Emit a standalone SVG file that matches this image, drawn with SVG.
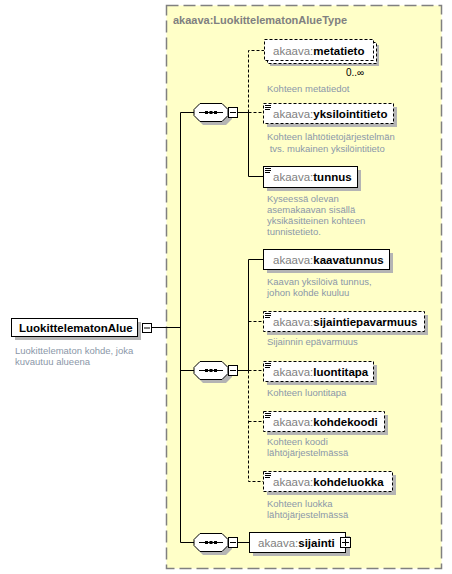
<svg xmlns="http://www.w3.org/2000/svg" width="452" height="574" viewBox="0 0 452 574">
<defs>
<style>
.ns{fill:#808080;font-weight:normal}
.nm{fill:#000;font-weight:bold}
.el{font-family:"Liberation Sans",Arial,sans-serif;font-size:11.5px}
.desc{font-family:"Liberation Sans",Arial,sans-serif;font-size:9.5px;fill:#8b97a8}
.box{fill:#fff;stroke:#000;stroke-width:1}
.dbox{fill:#fff;stroke:#000;stroke-width:1;stroke-dasharray:3,2}
.sh{fill:#b4b4b4}
.ln{stroke:#000;stroke-width:1;fill:none}
.dl{stroke:#000;stroke-width:1;fill:none;stroke-dasharray:3,2}
.ic{stroke:#000;stroke-width:1}
</style>
<g id="seq">
<polygon points="6,-8.5 3,-8.5 0,-5.5 0,5.5 6,9.5 29,9.5 34,5.5 34,-5.5 29,-9.5 6,-9.5" fill="none"/>
</g>
</defs>
<rect x="0" y="0" width="452" height="574" fill="#fff"/>

<g id="container">
<rect x="166.5" y="5.5" width="275" height="563" fill="#ffffc8" stroke="#808080" stroke-width="1.5" stroke-dasharray="12,5"/>
<text x="173" y="24" font-family="Liberation Sans,Arial,sans-serif" font-size="11px" font-weight="bold" fill="#808080">akaava:LuokittelematonAlueType</text>
</g>

<g id="connectors">
<line class="ln" x1="152" y1="327.5" x2="180.5" y2="327.5"/>
<line class="ln" x1="180.5" y1="112.5" x2="180.5" y2="542.5"/>
<line class="ln" x1="180.5" y1="112.5" x2="194" y2="112.5"/>
<line class="ln" x1="180.5" y1="370.5" x2="194" y2="370.5"/>
<line class="ln" x1="180.5" y1="542.5" x2="194" y2="542.5"/>
<!-- group 1 -->
<line class="ln" x1="238" y1="112.5" x2="248.5" y2="112.5"/>
<polyline class="dl" points="248.5,112.5 248.5,50.5 264,50.5"/>
<line class="dl" x1="248.5" y1="112.5" x2="263" y2="112.5"/>
<polyline class="ln" points="248.5,112.5 248.5,176.5 263,176.5"/>
<!-- group 2 -->
<line class="ln" x1="238" y1="370.5" x2="248.5" y2="370.5"/>
<polyline class="ln" points="248.5,370.5 248.5,259.5 263,259.5"/>
<line class="dl" x1="248.5" y1="321.5" x2="263" y2="321.5"/>
<line class="dl" x1="248.5" y1="370.5" x2="263" y2="370.5"/>
<polyline class="dl" points="248.5,370.5 248.5,481.5 263,481.5"/>
<line class="dl" x1="248.5" y1="421.5" x2="263" y2="421.5"/>
<!-- group 3 -->
<line class="ln" x1="238" y1="542.5" x2="249" y2="542.5"/>
</g>

<g id="LuokittelematonAlue">
<rect class="sh" x="15" y="322" width="126" height="18"/>
<rect class="box" x="11.5" y="318.5" width="126" height="18"/>
<text class="el nm" x="19" y="332" font-size="11.5px">LuokittelematonAlue</text>
<rect class="box" x="142.5" y="323.5" width="9" height="9"/>
<line class="ic" x1="144" y1="328" x2="150" y2="328"/>
<text class="desc"><tspan x="15" y="354">Luokittelematon kohde, joka</tspan><tspan x="15" y="365">kuvautuu alueena</tspan></text>
</g>

<g id="sequence1">
<polygon class="sh" points="203,107 226,107 232,113 232,119 226,125 203,125 197,119 197,113"/>
<polygon points="200,103.5 222,103.5 228,109.5 228,115.5 222,121.5 200,121.5 194,115.5 194,109.5" fill="#fff" stroke="#000"/>
<line class="ic" x1="199" y1="112.5" x2="223" y2="112.5"/>
<rect x="205" y="111" width="3" height="3"/><rect x="209.5" y="111" width="3" height="3"/><rect x="214" y="111" width="3" height="3"/>
<rect class="box" x="228.5" y="107.5" width="9" height="10"/>
<line class="ic" x1="230" y1="112.5" x2="236" y2="112.5"/>
</g>

<g id="sequence2">
<polygon class="sh" points="203,365 226,365 232,371 232,377 226,383 203,383 197,377 197,371"/>
<polygon points="200,361.5 222,361.5 228,367.5 228,373.5 222,379.5 200,379.5 194,373.5 194,367.5" fill="#fff" stroke="#000"/>
<line class="ic" x1="199" y1="370.5" x2="223" y2="370.5"/>
<rect x="205" y="369" width="3" height="3"/><rect x="209.5" y="369" width="3" height="3"/><rect x="214" y="369" width="3" height="3"/>
<rect class="box" x="228.5" y="365.5" width="9" height="10"/>
<line class="ic" x1="230" y1="370.5" x2="236" y2="370.5"/>
</g>

<g id="sequence3">
<polygon class="sh" points="203,537 226,537 232,543 232,549 226,555 203,555 197,549 197,543"/>
<polygon points="200,533.5 222,533.5 228,539.5 228,545.5 222,551.5 200,551.5 194,545.5 194,539.5" fill="#fff" stroke="#000"/>
<line class="ic" x1="199" y1="542.5" x2="223" y2="542.5"/>
<rect x="205" y="541" width="3" height="3"/><rect x="209.5" y="541" width="3" height="3"/><rect x="214" y="541" width="3" height="3"/>
<rect class="box" x="228.5" y="537.5" width="9" height="10"/>
<line class="ic" x1="230" y1="542.5" x2="236" y2="542.5"/>
</g>

<g id="metatieto">
<rect class="sh" x="270" y="45" width="109" height="21"/>
<rect class="dbox" x="267.5" y="42.5" width="109" height="21"/>
<rect class="dbox" x="264.5" y="39.5" width="109" height="21"/>
<text class="el" x="273" y="54.5"><tspan class="ns">akaava:</tspan><tspan class="nm">metatieto</tspan></text>
<text x="346" y="76" font-family="Liberation Sans,Arial,sans-serif" font-size="10px" fill="#000">0..∞</text>
<text class="desc" x="267" y="92">Kohteen metatiedot</text>
</g>

<g id="yksilointitieto">
<rect class="sh" x="267" y="107" width="130" height="20"/>
<rect class="dbox" x="263.5" y="103.5" width="130" height="20"/>
<line class="ic" x1="265" y1="105.5" x2="271" y2="105.5"/><line class="ic" x1="265" y1="107.5" x2="271" y2="107.5"/><line class="ic" x1="265" y1="109.5" x2="270" y2="109.5"/>
<text class="el" x="273" y="117.5"><tspan class="ns">akaava:</tspan><tspan class="nm">yksilointitieto</tspan></text>
<text class="desc"><tspan x="267" y="140">Kohteen lähtötietojärjestelmän</tspan><tspan x="267" y="152"> tvs. mukainen yksilöintitieto</tspan></text>
</g>

<g id="tunnus">
<rect class="sh" x="267" y="170" width="94" height="21"/>
<rect class="box" x="263.5" y="166.5" width="94" height="21"/>
<line class="ic" x1="265" y1="168.5" x2="271" y2="168.5"/><line class="ic" x1="265" y1="170.5" x2="271" y2="170.5"/><line class="ic" x1="265" y1="172.5" x2="270" y2="172.5"/>
<text class="el" x="273" y="181"><tspan class="ns">akaava:</tspan><tspan class="nm">tunnus</tspan></text>
<text class="desc"><tspan x="267" y="202">Kyseessä olevan</tspan><tspan x="267" y="213">asemakaavan sisällä</tspan><tspan x="267" y="224">yksikäsitteinen kohteen</tspan><tspan x="267" y="235">tunnistetieto.</tspan></text>
</g>

<g id="kaavatunnus">
<rect class="sh" x="267" y="253" width="126" height="20"/>
<rect class="box" x="263.5" y="249.5" width="126" height="20"/>
<text class="el" x="273" y="263.5"><tspan class="ns">akaava:</tspan><tspan class="nm">kaavatunnus</tspan></text>
<text class="desc"><tspan x="267" y="285">Kaavan yksilöivä tunnus,</tspan><tspan x="267" y="296">johon kohde kuuluu</tspan></text>
</g>

<g id="sijaintiepavarmuus">
<rect class="sh" x="267" y="315" width="161" height="20"/>
<rect class="dbox" x="263.5" y="311.5" width="161" height="20"/>
<line class="ic" x1="265" y1="313.5" x2="271" y2="313.5"/><line class="ic" x1="265" y1="315.5" x2="271" y2="315.5"/><line class="ic" x1="265" y1="317.5" x2="270" y2="317.5"/>
<text class="el" x="273" y="325.5"><tspan class="ns">akaava:</tspan><tspan class="nm">sijaintiepavarmuus</tspan></text>
<text class="desc" x="267" y="345">Sijainnin epävarmuus</text>
</g>

<g id="luontitapa">
<rect class="sh" x="267" y="365" width="110" height="20"/>
<rect class="dbox" x="263.5" y="361.5" width="110" height="20"/>
<line class="ic" x1="265" y1="363.5" x2="271" y2="363.5"/><line class="ic" x1="265" y1="365.5" x2="271" y2="365.5"/><line class="ic" x1="265" y1="367.5" x2="270" y2="367.5"/>
<text class="el" x="273" y="375.5"><tspan class="ns">akaava:</tspan><tspan class="nm">luontitapa</tspan></text>
<text class="desc" x="267" y="396">Kohteen luontitapa</text>
</g>

<g id="kohdekoodi">
<rect class="sh" x="267" y="415" width="121" height="20"/>
<rect class="dbox" x="263.5" y="411.5" width="121" height="20"/>
<line class="ic" x1="265" y1="413.5" x2="271" y2="413.5"/><line class="ic" x1="265" y1="415.5" x2="271" y2="415.5"/><line class="ic" x1="265" y1="417.5" x2="270" y2="417.5"/>
<text class="el" x="273" y="425.5"><tspan class="ns">akaava:</tspan><tspan class="nm">kohdekoodi</tspan></text>
<text class="desc"><tspan x="267" y="445">Kohteen koodi</tspan><tspan x="267" y="456">lähtöjärjestelmässä</tspan></text>
</g>

<g id="kohdeluokka">
<rect class="sh" x="267" y="475" width="129" height="20"/>
<rect class="dbox" x="263.5" y="471.5" width="129" height="20"/>
<line class="ic" x1="265" y1="473.5" x2="271" y2="473.5"/><line class="ic" x1="265" y1="475.5" x2="271" y2="475.5"/><line class="ic" x1="265" y1="477.5" x2="270" y2="477.5"/>
<text class="el" x="273" y="485.5"><tspan class="ns">akaava:</tspan><tspan class="nm">kohdeluokka</tspan></text>
<text class="desc"><tspan x="267" y="507">Kohteen luokka</tspan><tspan x="267" y="518">lähtöjärjestelmässä</tspan></text>
</g>

<g id="sijainti">
<rect class="sh" x="253" y="536" width="97" height="20"/>
<rect class="box" x="249.5" y="532.5" width="96" height="20"/>
<text class="el" x="258" y="546.5"><tspan class="ns">akaava:</tspan><tspan class="nm">sijainti</tspan></text>
<rect class="box" x="340.5" y="537.5" width="10" height="10"/>
<line class="ic" x1="342" y1="542.5" x2="349" y2="542.5"/>
<line class="ic" x1="345.5" y1="539" x2="345.5" y2="546"/>
</g>
</svg>
